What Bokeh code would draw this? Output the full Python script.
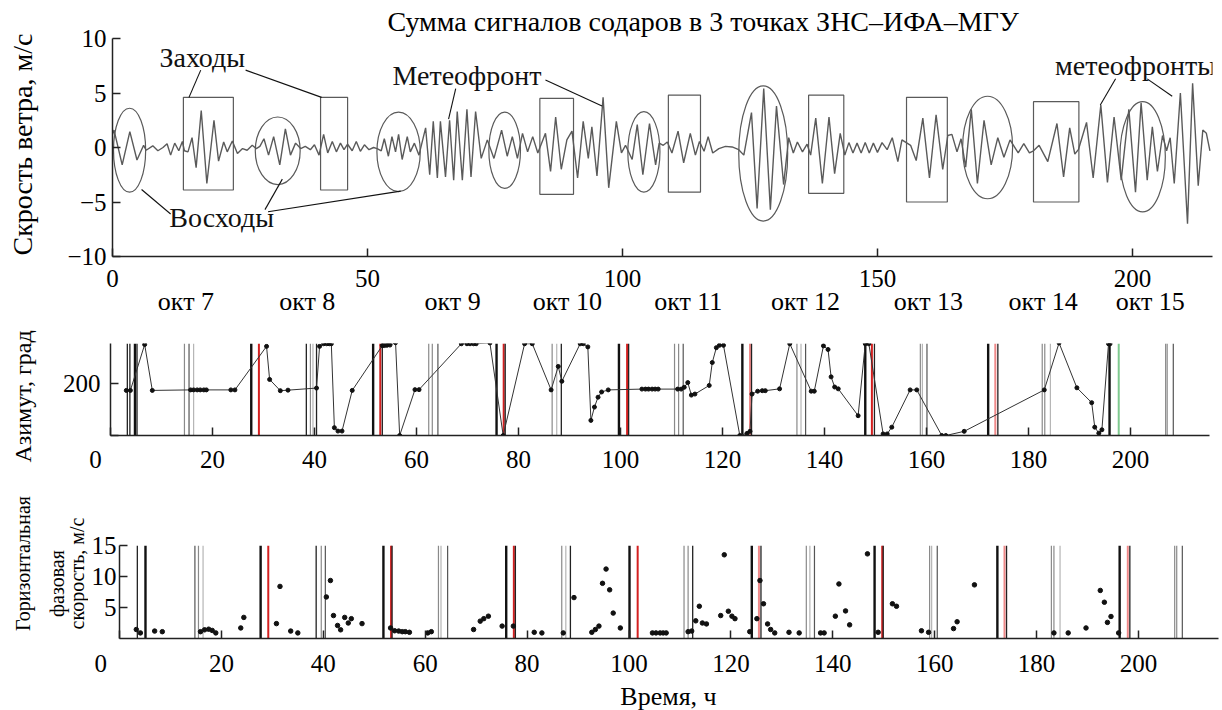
import numpy as np
from bokeh.plotting import figure
from bokeh.layouts import column, row
from bokeh.models import ColumnDataSource, FixedTicker, LinearAxis, Range1d
from bokeh.core.properties import value
from bokeh.embed import file_html
from bokeh.resources import INLINE

FONT = "serif"

# ---------------- data: top panel (sum of sodar signals), local extrema ----------------
sig_t = [0.0, 0.3, 1.9, 3.4, 4.8, 6.1, 6.6, 7.9, 8.9, 9.9, 10.7, 11.4, 12.2, 13.0, 13.7, 14.1,
         14.8, 15.6, 16.4, 17.4, 18.5, 19.9, 20.8, 21.8, 22.5, 23.5, 24.5, 25.5, 26.4, 27.4, 28.2,
         28.9, 29.7, 30.6, 31.6, 32.8, 33.9, 34.9, 35.9, 36.9, 37.8, 38.8, 39.6, 40.5, 41.4, 42.2,
         43.1, 43.9, 44.7, 45.4, 46.1, 47.0, 47.8, 48.6, 49.4, 50.3, 51.2, 51.9, 52.7, 53.3, 54.1,
         54.8, 55.5, 56.1, 56.8, 57.8, 58.4, 59.2, 60.1, 61.4, 62.2, 62.9, 63.7, 64.3, 65.3, 66.1,
         66.9, 67.6, 68.6, 69.5, 70.3, 71.2, 72.3, 73.5, 74.8, 76.3, 77.4, 78.4, 79.4, 80.4, 81.4,
         82.4, 83.4, 84.9, 85.9, 86.9, 88.0, 89.1, 90.1, 91.2, 92.3, 93.3, 94.0, 95.0, 96.2, 97.3,
         98.8, 99.8, 100.6, 101.9, 102.9, 104.0, 105.3, 106.5, 107.2, 108.0, 108.8, 109.7, 110.9,
         112.0, 113.3, 114.3, 115.1, 116.0, 116.8, 117.7, 118.9, 120.2, 121.5, 122.8, 123.8, 125.3,
         126.4, 127.7, 129.0, 130.2, 131.6, 132.6, 133.5, 134.3, 135.3, 136.2, 136.9, 137.9, 139.2,
         140.5, 141.6, 142.7, 143.6, 144.4, 145.2, 146.0, 146.8, 147.6, 148.4, 149.2, 150.0, 150.9,
         151.9, 152.9, 154.0, 154.8, 156.5, 157.6, 158.9, 160.2, 161.5, 162.8, 163.8, 164.6, 165.6,
         166.4, 167.3, 168.4, 169.6, 170.9, 172.3, 173.6, 174.8, 176.0, 177.6, 178.7, 179.8, 180.6,
         181.7, 183.4, 185.2, 186.5, 187.7, 188.7, 189.4, 191.0, 192.3, 193.8, 195.1, 196.4, 197.8,
         199.3, 200.6, 201.7, 202.9, 203.9, 204.9, 205.9, 206.7, 207.4, 208.2, 209.4, 210.8, 211.8,
         212.9, 213.8, 214.5, 215.2]
sig_v = [1.2, 1.6, -1.6, 1.45, -1.15, 0.2, -0.25, 0.15, -0.3, 0.0, 0.35, -0.7, 0.4, -0.3, 0.55, -0.3,
         -0.4, 0.9, -1.85, 3.4, -3.3, 2.5, -1.25, 0.5, -0.4, 0.6, -0.55, -0.1, -0.25, 0.2, -0.1,
         0.1, 0.8, -0.7, 1.0, -1.6, 1.7, -0.7, 0.4, -0.1, 0.1, -0.2, 0.25, -0.7, 1.2, -0.5,
         0.55, -0.4, 0.4, -0.2, 0.3, -0.3, 0.55, -0.35, 0.25, -0.2, 0.0, -0.1, -0.3, 0.8, -0.8,
         1.0, -0.4, 1.2, -1.1, 1.0, -0.4, 0.4, -0.7, 1.8, -2.5, 2.4, -2.8, 2.4, -2.7, 2.5,
         -3.0, 3.3, -3.0, 3.5, -2.7, 3.3, -1.0, 0.7, -1.0, 1.6, -0.8, 1.0, -1.0, 1.3, -0.4,
         1.0, -0.5, 1.3, -2.2, 2.8, -2.0, 0.7, 1.5, -2.8, 2.4, -1.0, 1.9, -2.6, 4.6, -3.7,
         2.4, -0.5, 0.2, -1.1, 2.1, -2.5, 2.2, -1.6, 0.4, 0.2, 0.5, -0.5, 1.5,
         -1.4, 1.3, -0.7, 0.55, -0.35, 1.0, -0.5, -0.1, 0.1, 0.05, -0.2, -0.7, 3.2,
         -5.6, 5.4, -5.7, 3.8, -3.4, 0.9, -0.5, 0.5, -0.4, 0.3, -0.7, 2.7, -3.3,
         2.8, -2.4, 1.3, -0.7, 0.45, -0.5, 0.4, -0.5, 0.45, -0.5, 0.4, -0.45, 0.45,
         -0.2, 0.9, -1.3, 0.7, 0.2, -1.2, 2.7, -2.8, 3.0, -2.0, 1.1, 1.2, -0.4,
         0.8, -1.8, 3.5, -3.3, 2.5, -1.6, 0.9, -0.9, 0.7, -0.5, 0.35, -0.5, -0.3,
         0.2, -1.3, 2.2, -2.7, 1.8, -0.6, -0.2, 2.3, -2.8, 3.9, -3.2, 2.8, -3.0,
         3.5, -4.1, 4.1, -3.0, 1.9, -2.2, 1.1, -0.3, 0.9, -3.3, 5.0, -7.0, 5.9,
         -3.5, 1.6, 1.3, -0.3]

# marked sunrises (ellipses) and sunsets (boxes)
ell_x = [3.35, 32.4, 56.1, 76.9, 104.2, 127.6, 171.6, 202.0]
ell_y = [-0.25, -0.3, -0.4, -0.25, -0.4, -0.55, 0.0, -0.85]
ell_w = [6.3, 8.8, 8.5, 6.2, 6.3, 9.6, 9.8, 8.9]
ell_h = [7.7, 6.2, 7.3, 7.0, 7.4, 12.4, 9.4, 10.1]
box_l = [13.9, 40.8, 83.8, 109.0, 136.5, 155.7, 180.6]
box_r = [23.7, 46.1, 90.4, 115.3, 143.4, 163.7, 189.5]
box_b = [-3.9, -3.9, -4.3, -4.1, -4.2, -5.0, -5.0]
box_t = [4.6, 4.6, 4.5, 4.8, 4.8, 4.6, 4.2]

# ---------------- data: middle panel (azimuth) ----------------
az_t = [3.1, 3.9, 6.7, 8.2, 15.7, 16.3, 17.0, 17.6, 18.3, 18.8, 23.6, 24.4, 30.6, 31.2, 33.3, 34.8,
        40.4, 41.0, 41.8, 42.4, 42.9, 43.3, 43.9, 44.6, 45.4, 47.4, 53.3, 53.7, 54.2, 54.8, 55.9,
        56.7, 59.7, 60.5, 68.8, 69.9, 70.5, 71.2, 71.7, 74.4, 77.0, 81.2, 82.7, 86.4, 87.8, 88.5,
        92.1, 92.7, 93.6, 94.2, 94.9, 95.6, 96.3, 97.6, 104.2, 104.9, 105.5, 106.2, 106.8, 107.4,
        111.2, 111.9, 112.5, 113.2, 113.9, 114.6, 117.4, 118.0, 118.8, 119.4, 120.2, 123.4, 124.8,
        125.4, 125.8, 126.9, 127.8, 128.4, 131.2, 133.2, 137.4, 138.0, 139.8, 140.7, 141.3, 142.0,
        142.7, 146.6, 148.0, 148.7, 151.5, 152.3, 153.2, 156.8, 158.1, 163.0, 163.8, 167.4, 183.1,
        186.0, 189.5, 192.4, 193.0, 193.8, 194.4, 195.7, 196.0]
az_v = [173, 173, 349, 173, 175, 175, 175, 175, 175, 175, 175, 175, 342, 215, 172, 174,
        182, 342, 352, 352, 352, 352, 30, 17, 17, 173, 345, 345, 346, 347, 356,
        0, 176, 176, 352, 352, 352, 352, 352, 355, 0, 352, 352, 175, 265, 208,
        352, 352, 340, 58, 109, 147, 167, 175, 178, 178, 178, 178, 178, 178,
        178, 178, 185, 203, 155, 159, 192, 280, 337, 346, 346, 0, 8,
        16, 159, 170, 172, 172, 179, 352, 170, 170, 344, 330, 225, 186,
        179, 76, 352, 352, 6, 6, 32, 175, 175, 0, 0, 16, 175,
        355, 183, 126, 32, 9, 22, 352, 352]

# ---------------- data: bottom panel (horizontal phase speed) ----------------
pv_t = [3.3, 4.1, 6.9, 8.4, 15.9, 16.7, 17.5, 18.2, 18.9, 23.8, 24.4, 30.8, 31.5, 33.6, 35.0,
        40.6, 41.4, 42.0, 42.8, 43.4, 44.2, 44.9, 45.5, 47.6, 53.2, 54.0, 54.8, 55.5, 56.1, 56.9,
        60.5, 61.2, 69.5, 70.8, 71.5, 72.4, 75.1, 77.3, 81.4, 82.9, 87.1, 89.2, 92.7, 93.4, 94.1,
        94.8, 95.5, 96.2, 96.9, 98.3, 104.6, 105.3, 106.1, 106.7, 107.3, 111.6, 112.3, 113.1,
        113.8, 114.4, 115.2, 118.0, 118.7, 119.5, 120.2, 120.8, 123.7, 125.1, 125.7, 126.4, 127.2,
        127.8, 128.6, 131.4, 133.4, 137.6, 138.3, 140.5, 141.2, 142.5, 143.3, 146.8, 148.9, 151.7,
        152.5, 157.4, 158.8, 163.7, 164.4, 167.8, 183.4, 186.2, 189.7, 192.5, 193.3, 193.9, 194.6,
        196.1]
pv_v = [1.45, 0.9, 1.2, 1.1, 1.1, 1.4, 1.5, 1.3, 0.9, 1.7, 3.4, 2.4, 8.4, 1.2, 0.9,
        6.7, 9.35, 3.7, 2.1, 1.4, 3.4, 2.5, 3.2, 2.4, 1.7, 1.25, 1.2, 1.1, 1.1, 1.0,
        0.9, 1.1, 1.45, 2.8, 3.2, 3.6, 2.0, 2.0, 1.0, 0.9, 0.9, 6.6, 1.0, 1.45, 2.0,
        8.9, 11.2, 7.85, 4.1, 1.7, 0.9, 0.9, 0.9, 0.9, 0.9, 1.1, 1.2, 2.85,
        5.2, 2.5, 2.35, 3.7, 13.5, 4.4, 3.6, 3.2, 1.1, 3.2, 9.35, 5.6, 2.35,
        1.45, 0.9, 1.0, 0.9, 0.9, 0.9, 3.6, 8.8, 4.45, 2.2, 13.65, 1.0, 5.6,
        5.2, 1.25, 1.0, 1.6, 2.7, 8.65, 0.9, 0.9, 1.7, 7.75, 5.85, 2.6, 3.55,
        0.9]

# sunrise / sunset marker lines (kind codes)
mid_vx = [3.3, 3.8, 4.8, 5.2, 14.5, 15.4, 16.3, 27.6, 29.1, 38.4, 39.2, 39.7, 40.4, 51.5, 52.9, 53.3,
          62.4, 63.1, 64.2, 75.7, 77.1, 77.4, 86.6, 87.5, 88.4, 99.7, 101.3, 101.6, 110.6, 111.4,
          112.3, 123.9, 125.4, 125.7, 134.6, 135.4, 136.3, 148.0, 149.3, 149.8, 158.8, 159.2, 160.1,
          172.1, 173.5, 174.0, 182.7, 183.2, 184.3, 195.9, 197.7, 206.9, 207.2, 208.4]
mid_vk = ["kt", "kt", "k", "kt", "g", "dg", "lg", "k", "r", "kt", "g", "lg", "kt", "k", "r", "kt",
          "g", "g", "dg", "k", "r", "kt", "g", "lg", "kt", "k", "r", "kt", "g", "g",
          "dg", "k", "p", "kt", "g", "lg", "dg", "k", "r", "kt", "g", "lg", "dg",
          "k", "p", "kt", "g", "g", "lg", "k", "gr", "g", "g", "dg"]
low_vx = [3.5, 5.1, 14.8, 15.5, 16.4, 27.7, 29.2, 38.6, 39.6, 40.4, 51.8, 53.3, 53.5, 62.6, 63.1,
          64.4, 75.9, 77.4, 77.7, 86.8, 87.6, 88.5, 100.1, 101.7, 110.8, 111.6, 112.5, 124.1, 125.5,
          125.9, 134.8, 135.5, 136.4, 148.2, 149.7, 149.9, 159.0, 159.4, 160.5, 172.3, 173.7, 174.1,
          182.9, 183.4, 184.6, 196.3, 197.9, 198.3, 207.1, 207.5, 208.6]
low_vk = ["kt", "k", "dg", "g", "lg", "k", "r", "kt", "g", "dg", "k", "r", "kt", "g", "lg",
          "dg", "k", "r", "kt", "g", "lg", "kt", "k", "r", "g", "g", "kt", "k", "p",
          "kt", "g", "lg", "dg", "k", "r", "kt", "g", "lg", "dg", "k", "p", "kt",
          "g", "g", "lg", "k", "p", "kt", "g", "g", "dg"]

day_x = [14.4, 38.2, 66.7, 89.2, 112.9, 135.9, 160.0, 182.5, 203.5]
day_names = ["окт 7", "окт 8", "окт 9", "окт 10", "окт 11", "окт 12", "окт 13", "окт 14", "окт 15"]

TITLE = "Сумма сигналов содаров в 3 точках ЗНС–ИФА–МГУ"

KIND_COLOR = {"k": "#111111", "kt": "#222222", "g": "#8a8a8a", "lg": "#b5b5b5", "dg": "#555555",
              "r": "#d42020", "p": "#f08a8a", "gr": "#7fc98f"}
KIND_WIDTH = {"k": 2.4, "kt": 1.3, "g": 1.2, "lg": 1.2, "dg": 1.2, "r": 2.0, "p": 2.0, "gr": 2.0}

TICK_FS = "25px"


def no_align(f):
    try:
        f.frame_align = False
    except Exception:
        pass


def style(p):
    no_align(p)
    p.outline_line_color = None
    p.xgrid.visible = False
    p.ygrid.visible = False
    p.background_fill_color = "white"
    p.border_fill_color = "white"
    for ax in p.axis:
        ax.axis_line_color = "#222222"
        ax.axis_line_width = 1.5
        ax.major_tick_in = 8
        ax.major_tick_out = 0
        ax.major_tick_line_color = "#222222"
        ax.major_tick_line_width = 1.5
        ax.minor_tick_line_color = None
        ax.major_label_text_font = FONT
        ax.major_label_text_font_size = TICK_FS
        ax.major_label_text_color = "black"


def text_fig(w, h, xs, ys, texts, size, angle):
    f = figure(width=w, height=h, x_range=Range1d(0, w), y_range=Range1d(0, h),
               x_axis_type=None, y_axis_type=None, output_backend="svg",
               toolbar_location=None, min_border=0)
    no_align(f)
    f.outline_line_color = None
    f.background_fill_color = "white"
    f.border_fill_color = "white"
    f.text(x=xs, y=ys, text=texts, angle=angle, text_font=value(FONT),
           text_font_size=value(size), text_color="black",
           text_align="center", text_baseline="middle")
    return f


def vlines(p, xs, kinds, top):
    src = ColumnDataSource(dict(x=xs, y0=[0] * len(xs), y1=[top] * len(xs),
                                c=[KIND_COLOR[k] for k in kinds],
                                w=[KIND_WIDTH[k] for k in kinds]))
    p.segment(x0="x", y0="y0", x1="x", y1="y1", line_color="c", line_width="w", source=src)


H1, H2, H3, H4 = 323, 157, 200, 30

# ---------------- figure 1 ----------------
p1 = figure(width=1170, height=H1, x_range=Range1d(0, 215.7), y_range=Range1d(-10, 10),
            output_backend="svg", toolbar_location=None,
            min_border_left=60, min_border_right=10, min_border_top=38, min_border_bottom=67)
style(p1)
p1.title.text = TITLE
p1.title.align = "left"
p1.title.offset = 275
p1.title.standoff = 3
p1.title.text_font = FONT
p1.title.text_font_size = "28px"
p1.title.text_font_style = "normal"
p1.title.text_color = "black"
p1.below[0].ticker = FixedTicker(ticks=[0, 50, 100, 150, 200])
p1.below[0].major_label_standoff = 13
p1.yaxis.ticker = FixedTicker(ticks=[-10, -5, 0, 5, 10])
p1.yaxis.major_label_overrides = {-10: "−10", -5: "−5"}
p1.yaxis.major_label_standoff = 6

day_axis = LinearAxis(ticker=FixedTicker(ticks=day_x),
                      major_label_overrides={x: n for x, n in zip(day_x, day_names)},
                      axis_line_color=None, major_tick_line_color=None,
                      major_tick_in=0, major_tick_out=0, major_label_standoff=-3)
day_axis.major_label_text_font = FONT
day_axis.major_label_text_font_size = "26px"
day_axis.major_label_text_color = "black"
p1.add_layout(day_axis, "below")

p1.quad(left=box_l, right=box_r, bottom=box_b, top=box_t, fill_color=None,
         line_color="#5a5a5a", line_width=1.2)
p1.ellipse(x=ell_x, y=ell_y, width=ell_w, height=ell_h, fill_color=None,
           line_color="#5a5a5a", line_width=1.2)
p1.line(sig_t, sig_v, line_color="#5a5a5a", line_width=1.4)

p1.segment(x0=[17.3, 26.1, 5.7, 29.9, 30.5, 67.3, 84.9, 196.7, 202.9],
           y0=[7.1, 7.1, -3.85, -5.7, -5.9, 5.4, 6.2, 6.3, 6.3],
           x1=[15.0, 41.0, 11.4, 33.3, 56.5, 65.9, 96.0, 193.7, 207.8],
           y1=[4.6, 4.6, -6.1, -2.9, -4.0, 2.6, 3.8, 3.9, 4.7],
           line_color="#111111", line_width=1.1)
p1.text(x=[17.6, 21.4, 69.5, 200.6], y=[8.25, -6.4, 6.6, 7.5],
        text=["Заходы", "Восходы", "Метеофронт", "метеофронты"],
        text_font=value(FONT), text_font_size=value("28px"), text_color="#111111",
        text_align="center", text_baseline="middle")

lab1 = text_fig(52, H1, [22], [H1 - 144], ["Скрость ветра, м/с"], "28px", np.pi / 2)

# ---------------- figure 2 ----------------
p2 = figure(width=1170, height=H2, x_range=Range1d(0, 215.5), y_range=Range1d(0, 353),
            output_backend="svg", toolbar_location=None,
            min_border_left=58, min_border_right=13, min_border_top=20, min_border_bottom=45)
style(p2)
p2.xaxis.ticker = FixedTicker(ticks=list(range(0, 201, 20)))
p2.xaxis.major_label_overrides = {0: "0\u2003\u2009"}
p2.xaxis.major_label_standoff = 10
p2.yaxis.ticker = FixedTicker(ticks=[0, 200])
p2.yaxis.major_label_overrides = {0: ""}
p2.yaxis.major_label_standoff = 10

vlines(p2, mid_vx, mid_vk, 353)
p2.line(az_t, az_v, line_color="#333333", line_width=1.0)
p2.scatter(az_t, az_v, size=4, color="#111111")

lab2 = text_fig(52, H2, [22], [H2 - 73], ["Азимут, град"], "24px", np.pi / 2)

# ---------------- figure 3 ----------------
p3 = figure(width=1134, height=H3, x_range=Range1d(0, 215.7), y_range=Range1d(0, 15),
            output_backend="svg", toolbar_location=None,
            min_border_left=30, min_border_right=4, min_border_top=65, min_border_bottom=42)
style(p3)
p3.xaxis.ticker = FixedTicker(ticks=list(range(0, 201, 20)))
p3.xaxis.major_label_overrides = {0: "0\u2003\u2002"}
p3.xaxis.major_label_standoff = 11
p3.yaxis.ticker = FixedTicker(ticks=[5, 10, 15])
p3.yaxis.major_label_standoff = 3

vlines(p3, low_vx, low_vk, 15)
p3.scatter(pv_t, pv_v, size=4.5, color="#111111")

lab3 = text_fig(88, H3, [22, 56, 76], [H3 - 83, H3 - 103, H3 - 93],
                ["Горизонтальная", "фазовая", "скорость, м/с"], "20px", np.pi / 2)

xlab = text_fig(1222, H4, [668], [14], ["Время, ч"], "26px", 0)

layout = column(row(lab1, p1, spacing=0), row(lab2, p2, spacing=0), row(lab3, p3, spacing=0),
                xlab, spacing=0)
open("out.html", "w").write(file_html(layout, INLINE))
